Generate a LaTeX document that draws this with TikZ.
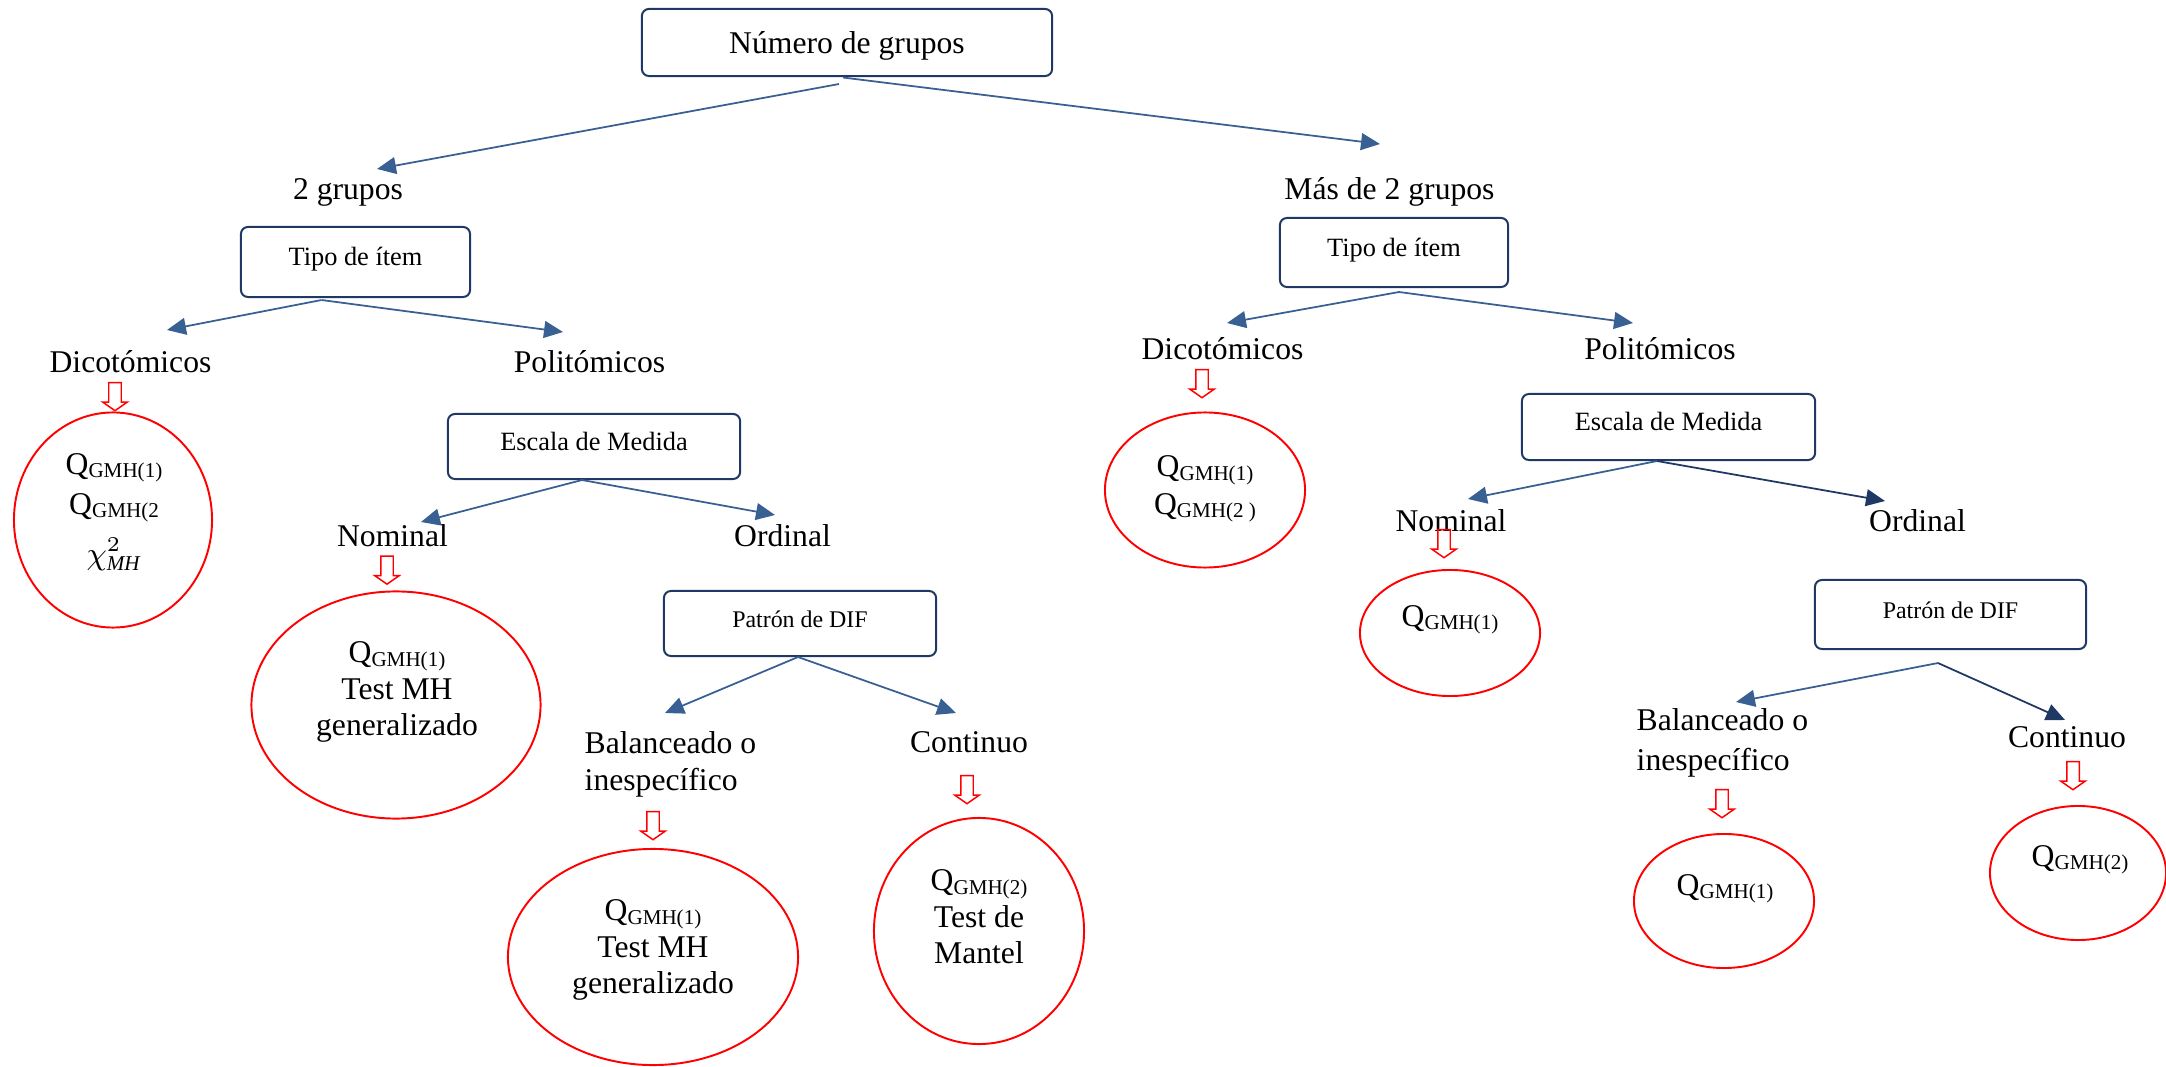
\documentclass[tikz,border=0pt]{standalone}
\usepackage{fontspec}
\setmainfont{Liberation Serif}
\usepackage{amsmath}
\usepackage{xcolor}
\usetikzlibrary{arrows.meta,calc,positioning,shapes.geometric,shapes.arrows}
\definecolor{boxnavy}{RGB}{32,56,100}
\definecolor{arrblue}{RGB}{56,96,146}
\newcommand{\qsub}[1]{Q{\fontsize{6}{6}\selectfont\raisebox{-1pt}{#1}}}

\begin{document}
\begin{tikzpicture}[x=0.01cm,y=-0.01cm,
  box/.style={draw=boxnavy,line width=0.57pt,rounded corners=2pt,inner sep=0pt,
    font=\fontsize{7.5}{9}\selectfont,text height=5.6pt,text depth=3.5pt},
  lab/.style={inner sep=0pt,anchor=base,font=\fontsize{9}{10.8}\selectfont},
  res/.style={draw=red,line width=0.55pt,ellipse,inner sep=0pt},
  rtxt/.style={inner sep=0pt,align=center,font=\fontsize{9}{10.4}\selectfont},
  redarr/.style={shape=single arrow,draw=red,line width=0.42pt,shape border rotate=270,
    inner sep=0.055cm,minimum height=0.28cm,minimum width=0.23cm,
    single arrow head extend=0.06cm,single arrow tip angle=110},
  arr/.style={color=arrblue,line width=0.5pt,-{Triangle[length=5.4pt,width=4.8pt]}}]
\useasboundingbox (0,0) rectangle (2166,1067);

% boxes
\node[box,font=\fontsize{9}{10.8}\selectfont,text height=6.5pt,text depth=0.5pt,
  minimum width=4.1cm,minimum height=0.67cm] (N) at (847,42.5) {Número de grupos};
\node[box,minimum width=2.29cm,minimum height=0.70cm] (T1) at (355.5,262) {Tipo de ítem};
\node[box,minimum width=2.28cm,minimum height=0.69cm] (T2) at (1394,252.5) {Tipo de ítem};
\node[box,minimum width=2.92cm,minimum height=0.65cm] (S1) at (594,446.5) {Escala de Medida};
\node[box,minimum width=2.93cm,minimum height=0.66cm] (S2) at (1668.5,427) {Escala de Medida};
\node[box,font=\fontsize{6.8}{8}\selectfont,minimum width=2.72cm,minimum height=0.65cm] (P1) at (800,623.5) {Patrón de DIF};
\node[box,font=\fontsize{6.8}{8}\selectfont,minimum width=2.71cm,minimum height=0.69cm] (P2) at (1950.5,614.5) {Patrón de DIF};

% labels
\node[lab] (G2) at (348,200) {2 grupos};
\node[lab] (G3) at (1389.5,200) {Más de 2 grupos};
\node[lab] (D1) at (130.5,372.6) {Dicotómicos};
\node[lab] (L1) at (589.5,372.6) {Politómicos};
\node[lab] (D2) at (1222.5,359.5) {Dicotómicos};
\node[lab] (L2) at (1660,359.5) {Politómicos};
\node[lab] (M1) at (392.5,547) {Nominal};
\node[lab] (O1) at (782.5,547) {Ordinal};
\node[lab] (M2) at (1451,532) {Nominal};
\node[lab] (O2) at (1917.5,532) {Ordinal};
\node[lab,anchor=north west,align=left,font=\fontsize{9}{10.6}\selectfont] (B1) at (584,730.5) {Balanceado o\\inespecífico};
\node[lab] (C1) at (969,752.5) {Continuo};
\node[lab,anchor=north west,align=left,font=\fontsize{9}{11.3}\selectfont] (B2) at (1636,707.7) {Balanceado o\\inespecífico};
\node[lab] (C2) at (2067,747) {Continuo};

% red block arrows
\node[redarr] (R1) at (115,394.5) {};
\node[redarr] (R2) at (387,568) {};
\node[redarr] (R3) at (653,823.5) {};
\node[redarr] (R4) at (967,787.5) {};
\node[redarr] (R5) at (1202,381.5) {};
\node[redarr] (R6) at (1444,541.5) {};
\node[redarr] (R7) at (1722,801.5) {};
\node[redarr] (R8) at (2073,773.5) {};

% results
\node[res,minimum width=1.98cm,minimum height=2.15cm] (E1) at (113,520) {};
\node[rtxt,font=\fontsize{9}{11.4}\selectfont] (E1t) at (114,512) {\qsub{GMH(1)}\\\qsub{GMH(2}\\[3pt]$\chi^{2}_{\textit{MH}}$};
\node[res,minimum width=2.89cm,minimum height=2.27cm] (E2) at (396,705) {};
\node[rtxt] (E2t) at (397,692) {\qsub{GMH(1)}\\Test MH\\generalizado};
\node[res,minimum width=2.90cm,minimum height=2.16cm] (E3) at (653,957) {};
\node[rtxt] (E3t) at (653,950) {\qsub{GMH(1)}\\Test MH\\generalizado};
\node[res,minimum width=2.10cm,minimum height=2.26cm] (E4) at (979,931) {};
\node[rtxt] (E4t) at (979,917) {\qsub{GMH(2)}\\Test de\\Mantel};
\node[res,minimum width=2.00cm,minimum height=1.55cm] (E5) at (1205,490) {};
\node[rtxt,font=\fontsize{9}{10.8}\selectfont] (E5t) at (1205,489) {\qsub{GMH(1)}\\\qsub{GMH(2 )}};
\node[res,minimum width=1.80cm,minimum height=1.26cm] (E6) at (1450,633) {};
\node[rtxt] (E6t) at (1450,620) {\qsub{GMH(1)}};
\node[res,minimum width=1.80cm,minimum height=1.34cm] (E7) at (1724,901) {};
\node[rtxt] (E7t) at (1725,889) {\qsub{GMH(1)}};
\node[res,minimum width=1.76cm,minimum height=1.34cm] (E8) at (2078,873) {};
\node[rtxt] (E8t) at (2080,860) {\qsub{GMH(2)}};

\path[arr]
($(N.south)+(-8,7)$) edge ($(G2.base)+(29,-31)$)
($(N.south)+(-4,0.5)$) edge ($(G3.base)+(-9.5,-56)$)
($(T1.south)+(-34,2)$) edge ($(D1.base)+(36.5,-42.6)$)
($(T1.south)+(-34,2)$) edge ($(L1.base)+(-26.5,-40.6)$)
($(T2.south)+(5,4)$) edge ($(D2.base)+(4.5,-36.5)$)
($(T2.south)+(5,4)$) edge ($(L2.base)+(-27,-36.5)$)
($(S1.south)+(-12,0)$) edge ($(M1.base)+(28.5,-25)$)
($(S1.south)+(-12,0)$) edge ($(O1.base)+(-7.5,-32)$)
($(S2.south)+(-11.5,0)$) edge ($(M2.base)+(17,-33)$)
($(S2.south)+(-11.5,0)$) edge[boxnavy] ($(O2.base)+(-32.5,-31)$)
($(P1.south)+(-2,0)$) edge ($(B1.north west)+(81,-17.5)$)
($(P1.south)+(-2,0)$) edge ($(C1.base)+(-13,-39.5)$)
($(P2.south)+(-12.5,13)$) edge ($(B2.north west)+(100,-5.7)$)
($(P2.south)+(-12.5,13)$) edge[boxnavy] ($(C2.base)+(-2,-27)$);
\end{tikzpicture}
\end{document}
